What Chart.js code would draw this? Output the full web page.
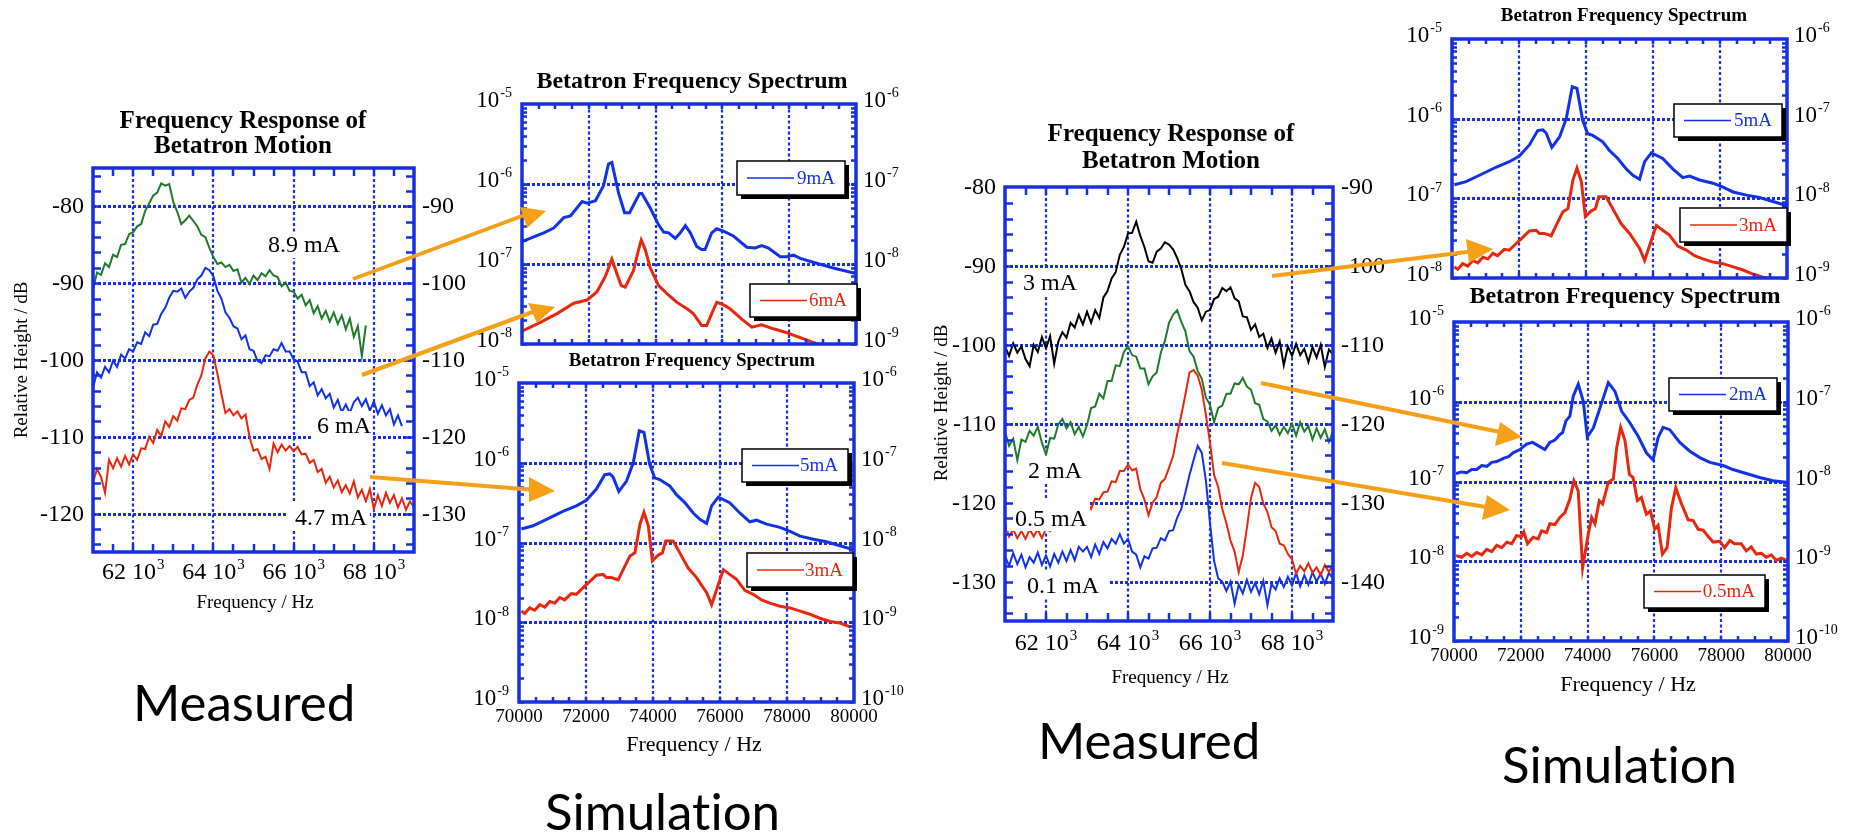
<!DOCTYPE html>
<html>
<head>
<meta charset="utf-8">
<script src="https://cdn.jsdelivr.net/npm/chart.js@4.4.1/dist/chart.umd.min.js"></script>
<style>
  body { margin: 0; width: 1850px; height: 832px; background: #fff; position: relative; overflow: hidden; }
  .panel { position: absolute; background: #fff; }
  .caption { position: absolute; font-family: Lato, "DejaVu Sans", sans-serif; font-size: 51px; line-height: 51px; color: #000; white-space: nowrap; font-variant-ligatures: none; font-feature-settings: "liga" 0, "clig" 0; }
  #arrows { position: absolute; left: 0; top: 0; }
</style>
</head>
<body>
<div class="panel" style="left:0px;top:95px"><canvas id="measA" width="465" height="530"></canvas></div>
<div class="panel" style="left:930px;top:110px"><canvas id="measD" width="470" height="580"></canvas></div>
<div class="panel" style="left:466px;top:60px"><canvas id="simB" width="464" height="292"></canvas></div>
<div class="panel" style="left:465px;top:347px"><canvas id="simC" width="465" height="412"></canvas></div>
<div class="panel" style="left:1398px;top:0px"><canvas id="simE" width="452" height="285"></canvas></div>
<div class="panel" style="left:1398px;top:283px"><canvas id="simF" width="452" height="420"></canvas></div>

<div class="caption" style="left:133px;top:676px">Measured</div>
<div class="caption" style="left:1038px;top:714px">Measured</div>
<div class="caption" style="left:545px;top:785px">Simulation</div>
<div class="caption" style="left:1502px;top:738px">Simulation</div>

<canvas id="arrows" width="1850" height="832"></canvas>

<script>
// measured spectra, analyzer grid of 100 Hz starting at 61 kHz (dB)
const measStart = 61000;
const measStep = 100;

const green89 = [-90.8, -88.6, -88.9, -87.4, -87.9, -86.3, -86.6, -85.0, -84.9, -83.6,
  -83.4, -82.6, -82.3, -80.6, -79.6, -78.6, -78.2, -77.0, -77.3, -77.1,
  -79.4, -80.7, -82.3, -81.8, -81.2, -81.9, -82.6, -83.7, -84.0, -85.4,
  -86.6, -87.5, -87.3, -87.9, -87.6, -88.4, -88.2, -89.9, -89.3, -90.1,
  -89.0, -89.6, -88.7, -89.1, -88.3, -89.0, -89.2, -90.4, -89.9, -91.0,
  -91.1, -92.0, -91.5, -92.9, -92.2, -93.9, -93.0, -94.6, -93.6, -95.0,
  -93.8, -95.3, -94.2, -96.0, -94.6, -97.0, -95.6, -99.5, -95.5];

const blue6 = [-103.6, -101.6, -102.3, -100.9, -101.6, -100.1, -100.9, -99.3, -99.8, -98.6,
  -98.9, -97.7, -97.9, -96.4, -96.9, -95.4, -95.3, -94.0, -93.2, -91.9,
  -91.0, -91.1, -90.7, -91.9, -91.1, -90.6, -89.5, -89.0, -88.0, -88.3,
  -89.1, -91.0, -92.0, -93.8, -94.5, -95.6, -95.9, -97.3, -96.8, -98.6,
  -98.8, -100.1, -100.4, -99.4, -99.5, -98.6, -98.8, -97.8, -98.9, -98.9,
  -99.9, -100.2, -101.6, -101.6, -103.4, -102.9, -104.6, -103.8, -105.0, -104.4,
  -106.2, -105.2, -106.8, -105.8, -106.9, -105.5, -104.9, -106.0, -105.1, -106.6,
  -105.4, -107.0, -105.9, -107.2, -106.4, -108.4, -107.2, -108.6];

const red47 = [-115.9, -114.2, -115.2, -117.3, -113.0, -114.1, -112.8, -113.9, -112.5, -113.6,
  -112.3, -113.0, -111.5, -111.6, -110.0, -110.8, -109.1, -109.9, -108.0, -108.7,
  -107.3, -107.9, -106.3, -106.4, -105.2, -104.9, -103.2, -102.0, -99.8, -98.9,
  -99.4, -101.8, -104.4, -106.9, -106.4, -107.2, -106.7, -107.6, -107.1, -110.0,
  -111.8, -111.6, -112.9, -112.6, -114.2, -110.9, -112.0, -111.0, -111.8, -111.2,
  -111.9, -111.3, -112.3, -112.2, -113.4, -113.0, -114.6, -114.2, -116.0, -115.2,
  -116.6, -115.7, -117.2, -116.3, -117.4, -115.8, -117.9, -116.9, -118.4, -116.8,
  -119.4, -117.6, -119.0, -117.3, -118.6, -117.6, -119.2, -118.0, -119.5, -118.4, -119.2];

const black3 = [-100.2, -101.4, -99.8, -101.0, -100.2, -101.8, -102.7, -100.0, -100.9, -99.0,
  -100.4, -98.9, -102.4, -99.6, -98.4, -99.1, -97.2, -97.8, -96.2, -97.4,
  -95.8, -97.2, -95.6, -96.6, -94.0, -93.2, -91.6, -90.8, -88.6, -87.6,
  -85.9, -85.8, -84.4, -86.2, -87.6, -89.4, -89.6, -88.2, -87.8, -87.0,
  -87.3, -87.9, -89.0, -90.4, -92.4, -93.2, -94.6, -95.3, -96.9, -95.8,
  -95.6, -94.2, -93.9, -92.8, -93.2, -92.7, -94.1, -94.5, -96.4, -96.5,
  -98.1, -97.4, -99.0, -98.6, -100.4, -99.2, -101.0, -99.6, -102.6, -100.2,
  -101.4, -99.9, -101.3, -100.5, -102.2, -100.3, -101.6, -100.0, -102.8, -100.6, -101.2];

const green2 = [-111.0, -112.8, -111.9, -114.6, -112.0, -112.3, -110.9, -111.5, -110.4, -112.4,
  -113.9, -111.8, -111.9, -110.1, -109.4, -110.6, -109.8, -111.3, -110.4, -111.6,
  -110.2, -108.0, -107.8, -106.2, -106.8, -104.6, -104.6, -102.6, -102.7, -100.9,
  -100.2, -101.3, -101.5, -103.0, -103.0, -105.0, -104.0, -103.5, -101.0, -99.5,
  -97.2, -96.2, -95.6, -97.1, -98.3, -100.8, -101.5, -103.3, -104.3, -106.7,
  -107.6, -109.8, -108.0, -107.7, -106.2, -106.2, -104.9, -105.0, -104.2, -105.3,
  -105.7, -107.4, -107.6, -109.4, -109.7, -110.9, -110.2, -111.4, -110.4, -111.2,
  -110.0, -111.5, -109.8, -111.0, -110.3, -112.0, -110.6, -111.8, -110.7, -112.3, -111.0];

const red05 = [-122.6, -124.3, -123.4, -124.5, -123.6, -124.6, -123.4, -124.3, -123.4, -124.5,
  -123.3, -123.6, -122.7, -122.9, -122.1, -122.4, -121.4, -121.6, -120.8, -120.9,
  -119.9, -120.8, -119.5, -119.6, -118.7, -118.6, -117.3, -117.4, -116.0, -116.0,
  -115.2, -115.9, -115.7, -118.3, -119.6, -121.6, -120.0, -119.3, -117.5, -117.0,
  -115.6, -114.1, -111.3, -108.9, -106.3, -103.5, -103.2, -103.9, -105.7, -108.9,
  -112.4, -116.5, -118.0, -120.8, -122.6, -124.8, -126.2, -128.8, -126.7, -123.2,
  -119.4, -117.5, -118.0, -120.1, -121.2, -123.1, -123.6, -125.2, -125.4, -126.5,
  -127.2, -129.0, -128.0, -128.7, -127.7, -128.9, -128.2, -129.2, -127.9, -128.8, -127.8];

const blue01 = [-126.8, -128.0, -126.4, -127.8, -126.6, -128.2, -126.9, -127.6, -126.3, -127.9,
  -126.7, -128.1, -126.5, -127.6, -126.2, -127.4, -126.0, -127.3, -125.6, -126.2,
  -125.6, -126.9, -125.3, -126.5, -125.0, -125.8, -124.6, -125.2, -124.0, -125.2,
  -124.6, -126.2, -126.6, -128.2, -126.8, -127.1, -125.8, -125.7, -124.5, -124.8,
  -123.6, -123.5, -121.9, -120.8, -118.7, -116.5, -114.6, -112.8, -113.7, -117.2,
  -122.6, -127.4, -129.6, -130.0, -131.2, -130.0, -132.8, -130.4, -131.5, -129.8,
  -131.3, -130.2, -131.6, -129.9, -133.0, -130.3, -131.0, -129.6, -130.7, -129.4,
  -130.5, -128.9, -130.6, -129.2, -130.4, -128.8, -130.0, -129.0, -130.3, -128.9, -129.6];

// simulated spectra: [frequency Hz, log10 amplitude]
const spec9mA = [[70000, -6.72], [70650, -6.61], [70950, -6.55], [71250, -6.42], [71450, -6.40],
  [71800, -6.22], [71950, -6.24], [72200, -6.21], [72440, -6.02], [72590, -5.75], [72690, -5.73],
  [72890, -6.11], [73070, -6.36], [73220, -6.36], [73520, -6.12], [73590, -6.12], [73840, -6.30],
  [74090, -6.51], [74240, -6.60], [74390, -6.61], [74590, -6.68], [74740, -6.61], [74890, -6.52],
  [75040, -6.61], [75230, -6.78], [75380, -6.82], [75480, -6.82], [75680, -6.61], [75830, -6.56],
  [76030, -6.59], [76330, -6.65], [76730, -6.79], [76980, -6.80], [77180, -6.77], [77380, -6.80],
  [77730, -6.91], [77930, -6.91], [78130, -6.89], [78330, -6.93], [78820, -6.99], [79320, -7.05],
  [80000, -7.12]];

const spec6mA = [[70000, -7.84], [70550, -7.73], [71050, -7.62], [71550, -7.49], [71950, -7.45],
  [72240, -7.35], [72490, -7.16], [72690, -6.94], [72840, -7.12], [72970, -7.27], [73090, -7.29],
  [73340, -7.08], [73490, -6.82], [73570, -6.70], [73690, -6.82], [73840, -7.05], [74090, -7.27],
  [74340, -7.37], [74640, -7.48], [74940, -7.56], [75130, -7.62], [75380, -7.77], [75530, -7.77],
  [75680, -7.62], [75830, -7.48], [75980, -7.50], [76230, -7.56], [76580, -7.69], [76880, -7.79],
  [77180, -7.76], [77530, -7.81], [77930, -7.86], [78330, -7.92], [78720, -7.98], [79120, -8.03],
  [79600, -8.10], [80000, -8.15]];

const spec5mA = [[70070, -6.83], [70420, -6.79], [70820, -6.71], [71310, -6.61], [71710, -6.54],
  [72010, -6.47], [72310, -6.33], [72560, -6.15], [72710, -6.14], [72810, -6.18], [72980, -6.36],
  [73210, -6.23], [73410, -6.00], [73590, -5.60], [73730, -5.62], [73900, -6.02], [74050, -6.19],
  [74200, -6.21], [74500, -6.29], [74700, -6.40], [74950, -6.50], [75200, -6.63], [75400, -6.71],
  [75600, -6.76], [75750, -6.54], [75950, -6.43], [76290, -6.50], [76590, -6.63], [76890, -6.74],
  [77090, -6.72], [77390, -6.77], [77790, -6.81], [78090, -6.86], [78390, -6.92], [78790, -6.96],
  [79180, -6.99], [79580, -7.04], [79980, -7.09]];

const spec3mA = [[70070, -7.86], [70170, -7.89], [70320, -7.82], [70470, -7.85], [70620, -7.78],
  [70770, -7.81], [70920, -7.74], [71070, -7.76], [71220, -7.69], [71360, -7.72], [71560, -7.64],
  [71710, -7.65], [71910, -7.57], [72110, -7.49], [72310, -7.41], [72510, -7.40], [72610, -7.44],
  [72760, -7.44], [72960, -7.47], [73110, -7.34], [73310, -7.17], [73460, -7.13], [73610, -6.77],
  [73730, -6.62], [73860, -6.79], [73980, -7.23], [74150, -7.16], [74280, -7.13], [74380, -6.98],
  [74600, -6.98], [74800, -7.13], [75050, -7.32], [75300, -7.44], [75600, -7.63], [75750, -7.78],
  [75900, -7.59], [76100, -7.34], [76290, -7.40], [76490, -7.46], [76740, -7.60], [76990, -7.65],
  [77240, -7.72], [77490, -7.76], [77790, -7.80], [78090, -7.82], [78390, -7.86], [78690, -7.90],
  [78980, -7.95], [79280, -7.99], [79580, -8.01], [79900, -8.06]];

const spec2mA = [[70060, -6.90], [70230, -6.88], [70380, -6.89], [70530, -6.85], [70680, -6.85],
  [70830, -6.80], [70980, -6.81], [71130, -6.76], [71280, -6.75], [71480, -6.71], [71630, -6.69],
  [71770, -6.64], [71970, -6.60], [72170, -6.53], [72350, -6.51], [72520, -6.55], [72720, -6.60],
  [72870, -6.51], [73020, -6.48], [73170, -6.41], [73250, -6.39], [73350, -6.24], [73470, -6.18],
  [73570, -5.93], [73720, -5.78], [73870, -5.99], [73990, -6.44], [74170, -6.33], [74370, -6.08],
  [74620, -5.76], [74820, -5.87], [75020, -6.12], [75260, -6.26], [75510, -6.43], [75760, -6.64],
  [75960, -6.73], [76110, -6.45], [76260, -6.32], [76460, -6.35], [76760, -6.51], [77060, -6.62],
  [77360, -6.70], [77660, -6.76], [78060, -6.80], [78350, -6.85], [78750, -6.90], [79150, -6.95],
  [79550, -6.99], [79950, -7.01]];

const spec05mA = [[70060, -7.93], [70230, -7.95], [70380, -7.90], [70530, -7.94], [70680, -7.89],
  [70830, -7.92], [70980, -7.85], [71130, -7.88], [71280, -7.80], [71430, -7.83], [71580, -7.76],
  [71730, -7.78], [71870, -7.68], [72020, -7.69], [72090, -7.63], [72200, -7.78], [72370, -7.70],
  [72520, -7.72], [72620, -7.62], [72770, -7.64], [72870, -7.53], [73020, -7.54], [73170, -7.45],
  [73320, -7.39], [73470, -7.22], [73590, -6.99], [73720, -7.12], [73850, -8.08], [74020, -7.66],
  [74120, -7.45], [74220, -7.53], [74350, -7.24], [74450, -7.28], [74620, -7.01], [74770, -6.97],
  [74870, -6.58], [74990, -6.32], [75120, -6.49], [75250, -6.91], [75360, -6.95], [75490, -7.24],
  [75610, -7.20], [75760, -7.41], [75880, -7.37], [76010, -7.60], [76110, -7.55], [76240, -7.91],
  [76380, -7.83], [76510, -7.33], [76640, -7.08], [76810, -7.28], [77010, -7.48], [77160, -7.49],
  [77310, -7.60], [77460, -7.61], [77610, -7.69], [77760, -7.76], [77960, -7.75], [78100, -7.83],
  [78260, -7.74], [78400, -7.78], [78600, -7.78], [78750, -7.87], [78900, -7.82], [79050, -7.91],
  [79200, -7.90], [79350, -7.95], [79500, -7.92], [79650, -7.99], [79800, -7.96], [79950, -7.99]];

const FRAME = '#1730e0';
const BLUE = '#1232e8';
const RED = '#e8280e';
const GREEN = '#1f7a2c';
const BLACK = '#000000';
const ORANGE = '#f6a01a';
const SERIF = '"Liberation Serif", "Times New Roman", serif';

function trace(values) {
  return values.map((v, i) => ({ x: measStart + i * measStep, y: v }));
}
function logPts(pairs) {
  return pairs.map(p => ({ x: p[0], y: Math.pow(10, p[1]) }));
}

// text with a raised exponent, e.g. 10^-6 or 62 10^3
function supText(ctx, base, sup, x, y, align, size, supSize) {
  ctx.font = size + 'px ' + SERIF;
  const w1 = ctx.measureText(base).width;
  ctx.font = supSize + 'px ' + SERIF;
  const w2 = ctx.measureText(sup).width;
  let left = x;
  if (align === 'right') left = x - w1 - w2 - 1;
  if (align === 'center') left = x - (w1 + w2 + 1) / 2;
  ctx.textAlign = 'left';
  ctx.textBaseline = 'alphabetic';
  ctx.font = size + 'px ' + SERIF;
  ctx.fillText(base, left, y);
  ctx.font = supSize + 'px ' + SERIF;
  ctx.fillText(sup, left + w1 + 1, y - size * 0.42);
}

function seg(ctx, x1, y1, x2, y2) {
  ctx.beginPath();
  ctx.moveTo(x1, y1);
  ctx.lineTo(x2, y2);
  ctx.stroke();
}

// frame, inward ticks, dotted grid, axis text, notes and legend boxes
function framePlugin(p) {
  const ox = p.at[0], oy = p.at[1];
  const isLog = p.kind === 'spec';
  return {
    id: 'frame',
    beforeDraw(chart) {
      const c = chart.ctx;
      c.save();
      c.fillStyle = '#fff';
      c.fillRect(0, 0, chart.width, chart.height);
      c.restore();
    },
    beforeDatasetsDraw(chart) {
      const c = chart.ctx, a = chart.chartArea, x = chart.scales.x, y = chart.scales.y;
      c.save();
      c.strokeStyle = FRAME;
      c.lineWidth = 3;
      c.setLineDash([3, 2]);
      p.yGrid.forEach(v => {
        const py = Math.round(y.getPixelForValue(v)) + 0.5;
        if (py > a.top + 2 && py < a.bottom - 2) seg(c, a.left, py, a.right, py);
      });
      c.lineWidth = 2.2;
      c.setLineDash([3, 2.5]);
      p.xGrid.forEach(v => {
        const px = Math.round(x.getPixelForValue(v));
        seg(c, px, a.top, px, a.bottom);
      });
      c.restore();
    },
    afterDatasetsDraw(chart) {
      const c = chart.ctx, a = chart.chartArea, x = chart.scales.x, y = chart.scales.y, y2 = chart.scales.y2;
      c.save();
      // notes next to the curves, on white boxes
      (p.notes || []).forEach(n => {
        c.fillStyle = '#fff';
        c.fillRect(n.box[0] - ox, n.box[1] - oy, n.box[2], n.box[3]);
        c.fillStyle = '#000';
        c.font = '24px ' + SERIF;
        c.textAlign = 'left';
        c.textBaseline = 'alphabetic';
        c.fillText(n.text, n.x - ox, n.y - oy);
      });

      // ticks
      c.strokeStyle = FRAME;
      c.setLineDash([]);
      c.lineWidth = 2.5;
      const tl = isLog ? 5 : 8;
      for (let v = x.min + p.xMinor; v < x.max; v += p.xMinor) {
        const px = Math.round(x.getPixelForValue(v));
        seg(c, px, a.top, px, a.top + tl);
        seg(c, px, a.bottom, px, a.bottom - tl);
      }
      p.yTicks.forEach(v => {
        const py = Math.round(y.getPixelForValue(v)) + 0.5;
        seg(c, a.left, py, a.left + tl, py);
        seg(c, a.right, py, a.right - tl, py);
      });
      c.lineWidth = 3.5;
      c.strokeRect(a.left, a.top, a.right - a.left, a.bottom - a.top);

      // axis numbers
      c.fillStyle = '#000';
      if (isLog) {
        p.yGrid.forEach(v => {
          const py = y.getPixelForValue(v);
          const e = Math.round(Math.log10(v));
          supText(c, '10', String(e), a.left - 10, py + 3, 'right', 23, 14);
          const e2 = Math.round(Math.log10(v)) - 1;
          const py2 = y2.getPixelForValue(Math.pow(10, e2));
          supText(c, '10', String(e2), a.right + 7, py2 + 3, 'left', 23, 14);
        });
        if (p.xLabelY) {
          c.font = '19px ' + SERIF;
          c.textAlign = 'center';
          c.textBaseline = 'middle';
          for (let v = x.min; v <= x.max; v += 2000) {
            c.fillText(String(v), x.getPixelForValue(v), p.xLabelY - oy);
          }
        }
      } else {
        c.font = '24px ' + SERIF;
        c.textBaseline = 'alphabetic';
        p.yGrid.forEach(v => {
          const py = y.getPixelForValue(v);
          c.font = '24px ' + SERIF;
          c.textAlign = 'right';
          c.fillText(String(v), a.left - 9, py + 7);
          const v2 = v - p.yOffset;
          c.textAlign = 'left';
          c.fillText(String(v2), a.right + 8, y2.getPixelForValue(v2) + 7);
        });
        p.xGrid.forEach(v => {
          supText(c, String(v / 1000) + ' 10', '3', x.getPixelForValue(v), p.xLabelY - oy, 'center', 24, 15);
        });
      }

      // titles
      c.font = 'bold ' + p.titleSize + 'px ' + SERIF;
      c.textAlign = 'center';
      c.textBaseline = 'middle';
      p.title.forEach((t, i) => c.fillText(t, p.titleX - ox, p.titleY[i] - oy));
      if (p.xTitle) {
        c.font = p.xTitle.size + 'px ' + SERIF;
        c.fillText(p.xTitle.text, p.xTitle.x - ox, p.xTitle.y - oy);
      }
      if (p.yTitle) {
        c.save();
        c.translate(p.yTitle.x - ox, p.yTitle.y - oy);
        c.rotate(-Math.PI / 2);
        c.font = p.yTitle.size + 'px ' + SERIF;
        c.fillText(p.yTitle.text, 0, 0);
        c.restore();
      }

      // legend boxes with drop shadow
      (p.legends || []).forEach(g => {
        const bx = g.box[0] - ox, by = g.box[1] - oy, bw = g.box[2], bh = g.box[3];
        c.fillStyle = '#000';
        c.fillRect(bx + 4, by + 4, bw, bh);
        c.fillStyle = '#fff';
        c.fillRect(bx, by, bw, bh);
        c.strokeStyle = '#000';
        c.lineWidth = 1.5;
        c.strokeRect(bx, by, bw, bh);
        c.strokeStyle = g.color;
        c.lineWidth = 1.3;
        seg(c, bx + 10, by + bh / 2, bx + 57, by + bh / 2);
        c.fillStyle = g.color;
        c.font = '19px ' + SERIF;
        c.textAlign = 'right';
        c.textBaseline = 'middle';
        c.fillText(g.text, bx + bw - 10, by + bh / 2 + 1);
      });
      c.restore();
    }
  };
}

function makeChart(p) {
  const pad = {
    left: p.area[0] - p.at[0],
    top: p.area[1] - p.at[1],
    right: p.at[0] + p.at[2] - p.area[2],
    bottom: p.at[1] + p.at[3] - p.area[3]
  };
  const isLog = p.kind === 'spec';
  const datasets = p.series.map(s => ({
    data: s.data,
    borderColor: s.color,
    borderWidth: isLog ? 3 : 2,
    pointRadius: 0,
    fill: false,
    tension: 0,
    borderJoinStyle: 'miter'
  }));
  return new Chart(document.getElementById(p.id), {
    type: 'line',
    data: { datasets: datasets },
    options: {
      responsive: false,
      animation: false,
      events: [],
      layout: { padding: pad },
      plugins: { legend: { display: false }, tooltip: { enabled: false } },
      scales: {
        x: { type: 'linear', min: p.xr[0], max: p.xr[1], display: false },
        y: { type: isLog ? 'logarithmic' : 'linear', min: p.yr[0], max: p.yr[1], display: false },
        y2: { type: isLog ? 'logarithmic' : 'linear', min: p.y2r[0], max: p.y2r[1], display: false }
      }
    },
    plugins: [framePlugin(p)]
  });
}

// tick positions
const dbTicksA = [];
for (let v = -124; v <= -76; v += 2) dbTicksA.push(v);
const dbTicksD = [];
for (let v = -134; v <= -82; v += 2) dbTicksD.push(v);
function logTicks(lo, hi) {
  const out = [];
  for (let e = lo; e < hi; e++) for (let k = 1; k <= 9; k++) out.push(k * Math.pow(10, e));
  return out;
}
const measXGrid = [62000, 64000, 66000, 68000];
const specXGrid = [72000, 74000, 76000, 78000];

// measured, 8.9 / 6 / 4.7 mA
makeChart({
  id: 'measA', kind: 'meas', at: [0, 95, 465, 530], area: [93, 168, 414, 552],
  xr: [61000, 69000], yr: [-125, -75], y2r: [-135, -85], yOffset: 10,
  xGrid: measXGrid, yGrid: [-80, -90, -100, -110, -120], yTicks: dbTicksA, xMinor: 500,
  xLabelY: 579,
  title: ['Frequency Response of', 'Betatron Motion'], titleX: 243, titleY: [122, 147], titleSize: 25,
  xTitle: { text: 'Frequency / Hz', x: 255, y: 603, size: 19 },
  yTitle: { text: 'Relative Height / dB', x: 22, y: 360, size: 19 },
  notes: [
    { text: '8.9 mA', x: 268, y: 252, box: [264, 232, 82, 26] },
    { text: '6 mA', x: 317, y: 433, box: [313, 411, 59, 28] },
    { text: '4.7 mA', x: 295, y: 525, box: [287, 503, 83, 27] }
  ],
  series: [
    { data: trace(green89), color: GREEN },
    { data: trace(blue6), color: BLUE },
    { data: trace(red47), color: RED }
  ]
});

// measured, 3 / 2 / 0.5 / 0.1 mA
makeChart({
  id: 'measD', kind: 'meas', at: [930, 110, 470, 580], area: [1005, 187, 1333, 621],
  xr: [61000, 69000], yr: [-135, -80], y2r: [-145, -90], yOffset: 10,
  xGrid: measXGrid, yGrid: [-80, -90, -100, -110, -120, -130], yTicks: dbTicksD, xMinor: 500,
  xLabelY: 650,
  title: ['Frequency Response of', 'Betatron Motion'], titleX: 1171, titleY: [135, 162], titleSize: 25,
  xTitle: { text: 'Frequency / Hz', x: 1170, y: 678, size: 19 },
  yTitle: { text: 'Relative Height / dB', x: 942, y: 403, size: 19 },
  notes: [
    { text: '3 mA', x: 1023, y: 290, box: [1018, 268, 64, 28] },
    { text: '2 mA', x: 1028, y: 478, box: [1023, 456, 64, 28] },
    { text: '0.5 mA', x: 1015, y: 526, box: [1007, 500, 83, 31] },
    { text: '0.1 mA', x: 1027, y: 593, box: [1007, 570, 101, 29] }
  ],
  series: [
    { data: trace(black3), color: BLACK },
    { data: trace(green2), color: GREEN },
    { data: trace(red05), color: RED },
    { data: trace(blue01), color: BLUE }
  ]
});

// simulation, 9 / 6 mA
makeChart({
  id: 'simB', kind: 'spec', at: [466, 60, 464, 292], area: [522, 104, 856, 344],
  xr: [70000, 80000], yr: [1e-8, 1e-5], y2r: [1e-9, 1e-6],
  xGrid: specXGrid, yGrid: [1e-5, 1e-6, 1e-7, 1e-8], yTicks: logTicks(-8, -5), xMinor: 500,
  title: ['Betatron Frequency Spectrum'], titleX: 692, titleY: [82], titleSize: 24,
  legends: [
    { text: '9mA', color: BLUE, box: [737, 161, 108, 34] },
    { text: '6mA', color: RED, box: [750, 284, 107, 33] }
  ],
  series: [
    { data: logPts(spec9mA), color: BLUE },
    { data: logPts(spec6mA), color: RED }
  ]
});

// simulation, 5 / 3 mA
makeChart({
  id: 'simC', kind: 'spec', at: [465, 347, 465, 412], area: [519, 383, 854, 702],
  xr: [70000, 80000], yr: [1e-9, 1e-5], y2r: [1e-10, 1e-6],
  xGrid: specXGrid, yGrid: [1e-5, 1e-6, 1e-7, 1e-8, 1e-9], yTicks: logTicks(-9, -5), xMinor: 500,
  xLabelY: 717,
  title: ['Betatron Frequency Spectrum'], titleX: 692, titleY: [361], titleSize: 19,
  xTitle: { text: 'Frequency / Hz', x: 694, y: 745, size: 22 },
  legends: [
    { text: '5mA', color: BLUE, box: [742, 449, 106, 33] },
    { text: '3mA', color: RED, box: [747, 553, 106, 34] }
  ],
  series: [
    { data: logPts(spec5mA), color: BLUE },
    { data: logPts(spec3mA), color: RED }
  ]
});

// simulation, 5 / 3 mA, upper range
makeChart({
  id: 'simE', kind: 'spec', at: [1398, 0, 452, 285], area: [1452, 39, 1787, 278],
  xr: [70000, 80000], yr: [1e-8, 1e-5], y2r: [1e-9, 1e-6],
  xGrid: specXGrid, yGrid: [1e-5, 1e-6, 1e-7, 1e-8], yTicks: logTicks(-8, -5), xMinor: 500,
  title: ['Betatron Frequency Spectrum'], titleX: 1624, titleY: [16], titleSize: 19,
  legends: [
    { text: '5mA', color: BLUE, box: [1674, 104, 108, 33] },
    { text: '3mA', color: RED, box: [1680, 208, 107, 34] }
  ],
  series: [
    { data: logPts(spec5mA), color: BLUE },
    { data: logPts(spec3mA), color: RED }
  ]
});

// simulation, 2 / 0.5 mA
makeChart({
  id: 'simF', kind: 'spec', at: [1398, 283, 452, 420], area: [1454, 322, 1788, 641],
  xr: [70000, 80000], yr: [1e-9, 1e-5], y2r: [1e-10, 1e-6],
  xGrid: specXGrid, yGrid: [1e-5, 1e-6, 1e-7, 1e-8, 1e-9], yTicks: logTicks(-9, -5), xMinor: 500,
  xLabelY: 656,
  title: ['Betatron Frequency Spectrum'], titleX: 1625, titleY: [297], titleSize: 24,
  xTitle: { text: 'Frequency / Hz', x: 1628, y: 685, size: 22 },
  legends: [
    { text: '2mA', color: BLUE, box: [1669, 378, 108, 33] },
    { text: '0.5mA', color: RED, box: [1644, 575, 121, 33] }
  ],
  series: [
    { data: logPts(spec2mA), color: BLUE },
    { data: logPts(spec05mA), color: RED }
  ]
});

// orange arrows from the measured curves to the matching simulation
const arrowLines = [
  [353, 279, 530, 213], [362, 375, 538, 310], [370, 477, 536, 490],
  [1272, 276, 1475, 251], [1261, 383, 1505, 433], [1222, 463, 1492, 508]
];
const arrowHeads = [
  [520, 207, 546, 211, 527, 228], [528, 303, 555, 307, 537, 323], [529, 477, 555, 491, 529, 502],
  [1466, 239, 1493, 249, 1469, 263], [1500, 422, 1522, 437, 1495, 446], [1487, 495, 1510, 510, 1482, 520]
];
const actx = document.getElementById('arrows').getContext('2d');
actx.strokeStyle = ORANGE;
actx.fillStyle = ORANGE;
actx.lineWidth = 4;
actx.lineCap = 'butt';
arrowLines.forEach(l => seg(actx, l[0], l[1], l[2], l[3]));
arrowHeads.forEach(h => {
  actx.beginPath();
  actx.moveTo(h[0], h[1]);
  actx.lineTo(h[2], h[3]);
  actx.lineTo(h[4], h[5]);
  actx.closePath();
  actx.fill();
});
</script>
</body>
</html>
